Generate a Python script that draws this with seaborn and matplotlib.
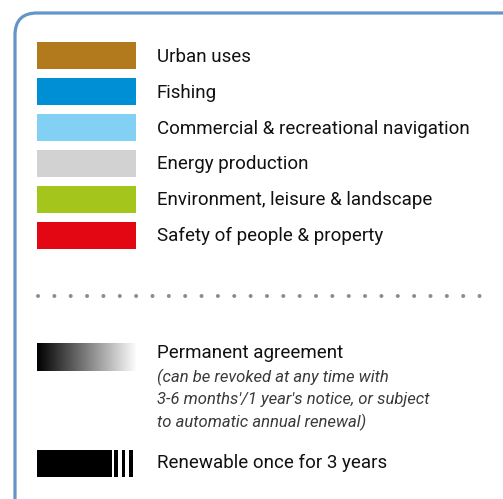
import numpy as np
import matplotlib.pyplot as plt
import seaborn as sns
from matplotlib.patches import FancyBboxPatch, Rectangle

sns.set_style("white")
plt.rcParams['font.family'] = ['Roboto', 'DejaVu Sans']

# legend data
categories = ["Urban uses", "Fishing", "Commercial & recreational navigation",
              "Energy production", "Environment, leisure & landscape",
              "Safety of people & property"]
colors = ["#b27a1c", "#008fd5", "#83d0f5", "#d2d2d2", "#a3c51c", "#e30613"]
perm_title = "Permanent agreement"
perm_note = ["(can be revoked at any time with",
             "3-6 months'/1 year's notice, or subject",
             "to automatic annual renewal)"]
renew_label = "Renewable once for 3 years"

W, H = 503, 499
fig = plt.figure(figsize=(W / 100, H / 100), dpi=100)
bg = fig.add_axes([0, 0, 1, 1])
bg.set_xlim(0, W)
bg.set_ylim(H, 0)
bg.axis('off')

# rounded frame
bg.add_patch(FancyBboxPatch((15, 13), 540, 540,
                            boxstyle="round,pad=0,rounding_size=22",
                            fc='none', ec='#6395c9', lw=2.3, zorder=1))

# colour swatches
sw = fig.add_axes([37 / W, 1 - 253.5 / H, 99 / W, 216 / H])
sns.barplot(x=[1] * len(categories), y=categories, hue=categories,
            palette=colors, orient='h', width=0.75, ax=sw, legend=False,
            saturation=1, linewidth=0)
sw.set_xlim(0, 1)
sw.axis('off')

text_kw = dict(fontsize=13.5, color='#111111', va='center', ha='left')
for i, lab in enumerate(categories):
    bg.text(157, 57 + 35.8 * i, lab, **text_kw)

# dotted separator
bg.plot([38, 488], [296, 296], color='#8c8c8c', lw=2.9,
        linestyle=(0, (0.01, 4.05)), dash_capstyle='round', zorder=3)

# permanent agreement: gradient bar
grad = np.linspace(0, 1, 256)[None, :]
bg.imshow(grad, cmap='gray', extent=(37, 137, 371, 343), aspect='auto',
          zorder=3)
bg.set_xlim(0, W)
bg.set_ylim(H, 0)
bg.text(157, 353, perm_title, **text_kw)
for j, line in enumerate(perm_note):
    bg.text(157, 377 + 22.5 * j, line, fontsize=12, style='italic',
            color='#3a3a3a', va='center', ha='left')

# renewable once: black bar + three stripes
bg.add_patch(Rectangle((37, 450), 75, 27, color='black', lw=0))
for x0 in [114.5, 122, 129.5]:
    bg.add_patch(Rectangle((x0, 450), 3.5, 27, color='black', lw=0))
bg.text(157, 463, renew_label, **text_kw)

fig.savefig("out.png", dpi=100)
